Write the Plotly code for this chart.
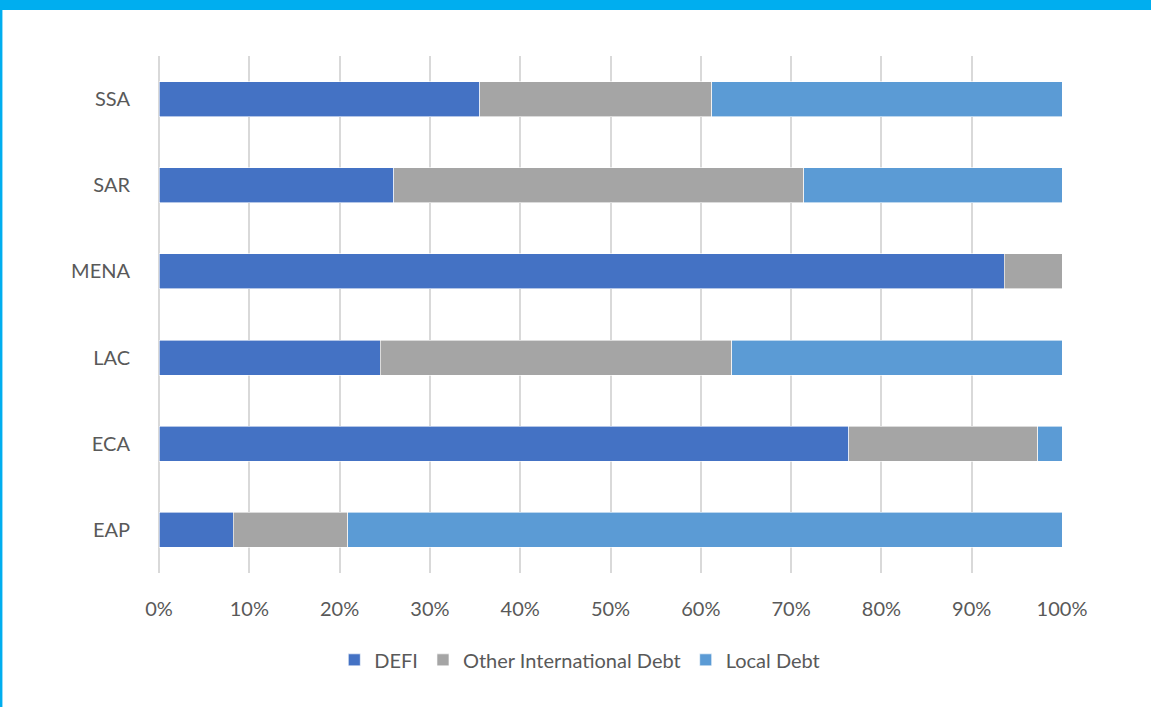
import plotly.graph_objects as go

# Regions (bottom to top as drawn)
regions = ["EAP", "ECA", "LAC", "MENA", "SAR", "SSA"]

# Share of debt by source, percent
defi = [8.2, 76.4, 24.5, 93.6, 26.0, 35.5]
other_intl = [12.7, 20.9, 38.9, 6.4, 45.4, 25.7]
local_debt = [79.1, 2.7, 36.6, 0.0, 28.6, 38.8]

series = [
    ("DEFI", defi, "#4472C4"),
    ("Other International Debt", other_intl, "#A5A5A5"),
    ("Local Debt", local_debt, "#5B9BD5"),
]

fig = go.Figure()
for name, vals, color in series:
    fig.add_trace(go.Bar(
        y=regions, x=vals, name=name, orientation="h",
        marker=dict(color=color, line=dict(color="white", width=0.6)),
    ))

font_col = "#595959"
fig.update_layout(
    barmode="stack",
    bargap=0.594,
    width=1151, height=707,
    paper_bgcolor="white", plot_bgcolor="white",
    margin=dict(l=159, r=89, t=56, b=134, autoexpand=False),
    font=dict(family="Lato, 'Open Sans', sans-serif", size=20, color=font_col),
    legend=dict(
        orientation="h", x=0.466, xanchor="center", y=-0.168, yanchor="middle",
        font=dict(size=20, color=font_col), traceorder="normal",
    ),
    showlegend=True,
)

fig.update_xaxes(
    range=[0, 100], dtick=10, ticksuffix="%",
    showgrid=True, gridcolor="#D9D9D9", gridwidth=1.5,
    zeroline=True, zerolinecolor="#D9D9D9", zerolinewidth=1.5,
    showline=False, ticks="", ticklabelstandoff=22,
    tickfont=dict(size=20, color=font_col),
)
fig.update_yaxes(
    categoryorder="array", categoryarray=regions,
    showgrid=False, showline=False, ticks="", ticklabelstandoff=28,
    tickfont=dict(size=20, color=font_col),
)

# Cyan frame on top and left edges of the page
cyan = "#00AEEF"
fig.add_shape(type="rect", xref="paper", yref="paper",
              x0=-0.18, x1=1.10, y0=1.089, y1=1.11,
              fillcolor=cyan, line=dict(width=0), layer="above")
fig.add_shape(type="rect", xref="paper", yref="paper",
              x0=-0.18, x1=-0.1734, y0=-0.26, y1=1.11,
              fillcolor=cyan, line=dict(width=0), layer="above")

# remove the default page margin so the figure sits at the window corner
fig.write_html("out.html", config={"displayModeBar": False},
               post_script="document.body.style.margin='0';")
